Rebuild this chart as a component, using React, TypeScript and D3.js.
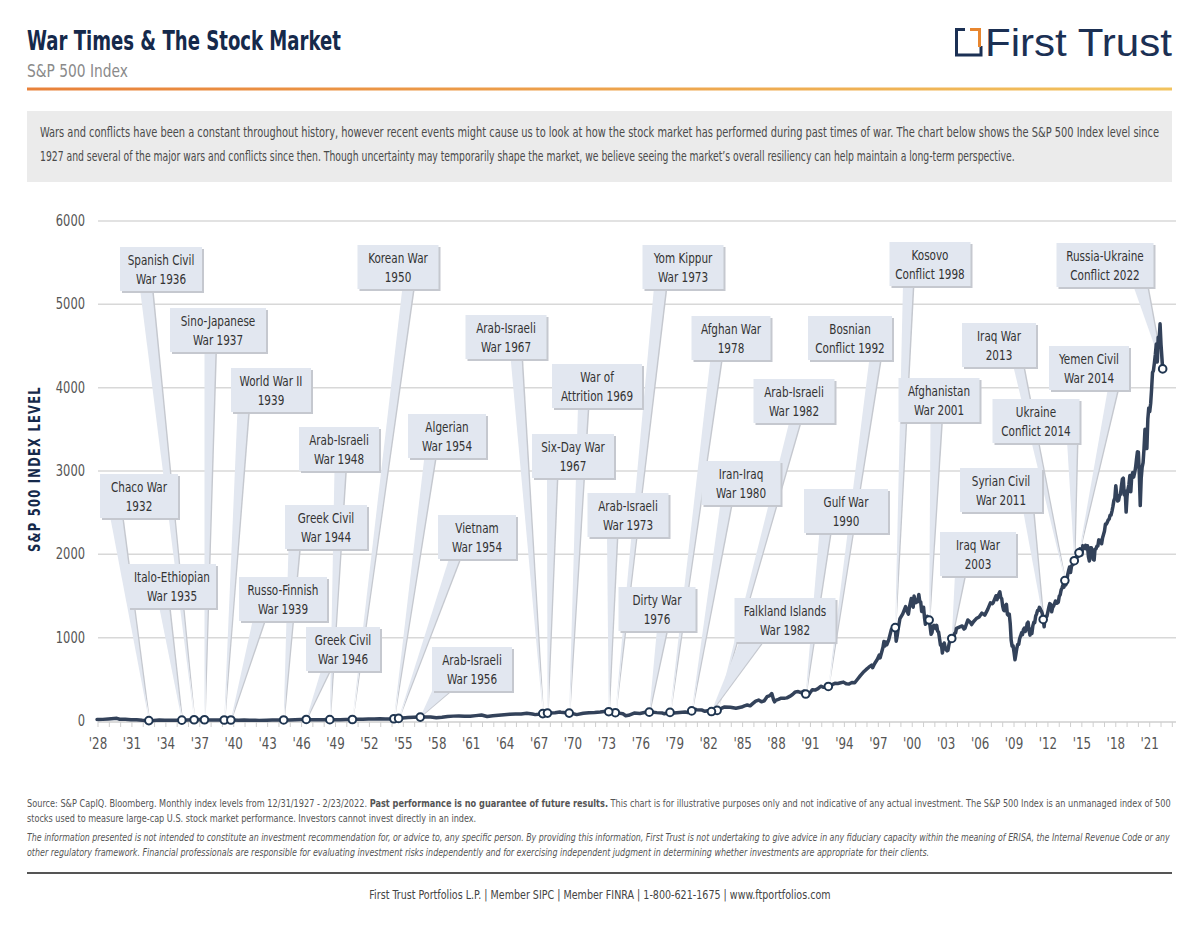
import React, { useLayoutEffect, useRef, useState } from "react";
import * as d3 from "d3";

// ---------- DATA ----------
// S&P 500 index level
const spx1928to1949: [string, number][] = [
  ["1927-12", 17.7], ["1928-06", 19.5], ["1928-12", 24.4], ["1929-09", 31.9], ["1929-12", 21.5],
  ["1930-06", 20.5], ["1930-12", 15.3], ["1931-06", 14.8], ["1931-12", 8.1], ["1932-06", 4.4],
  ["1932-12", 6.9], ["1933-06", 10.9], ["1933-12", 10.1], ["1934-06", 9.9], ["1934-12", 9.5],
  ["1935-06", 10.2], ["1935-12", 13.4], ["1936-06", 14.7], ["1936-12", 17.2], ["1937-06", 15.2],
  ["1937-12", 10.6], ["1938-06", 11.6], ["1938-12", 13.2], ["1939-06", 10.9], ["1939-12", 12.5],
  ["1940-06", 9.7], ["1940-12", 10.6], ["1941-06", 9.6], ["1941-12", 8.7], ["1942-04", 7.5],
  ["1942-12", 9.8], ["1943-06", 12.4], ["1943-12", 11.7], ["1944-06", 12.9], ["1944-12", 13.3],
  ["1945-06", 15.1], ["1945-12", 17.4], ["1946-05", 19.2], ["1946-12", 15.3], ["1947-06", 15.0],
  ["1947-12", 15.3], ["1948-06", 16.7], ["1948-12", 15.2], ["1949-06", 14.2], ["1949-12", 16.8],
];
const spx1950to1984: [string, number][] = [
  ["1950-06", 17.7], ["1950-12", 20.4], ["1951-06", 21.0], ["1951-12", 23.8], ["1952-06", 25.0],
  ["1952-12", 26.6], ["1953-06", 24.1], ["1953-12", 24.8], ["1954-06", 29.2], ["1954-12", 36.0],
  ["1955-06", 41.0], ["1955-12", 45.5], ["1956-06", 47.0], ["1956-12", 46.7], ["1957-06", 47.4],
  ["1957-12", 40.0], ["1958-06", 45.2], ["1958-12", 55.2], ["1959-06", 58.5], ["1959-12", 59.9],
  ["1960-06", 56.9], ["1960-12", 58.1], ["1961-06", 64.6], ["1961-12", 71.6], ["1962-06", 54.8],
  ["1962-12", 63.1], ["1963-06", 69.4], ["1963-12", 75.0], ["1964-06", 81.7], ["1964-12", 84.8],
  ["1965-06", 84.1], ["1965-12", 92.4], ["1966-06", 84.7], ["1966-09", 76.6], ["1966-12", 80.3],
  ["1967-06", 90.6], ["1967-12", 96.5], ["1968-06", 99.6], ["1968-11", 108.4], ["1968-12", 103.9],
  ["1969-06", 97.7], ["1969-12", 92.1], ["1970-05", 76.6], ["1970-12", 92.2], ["1971-06", 99.7],
  ["1971-12", 102.1], ["1972-06", 107.1], ["1972-12", 118.1], ["1973-06", 104.3], ["1973-12", 97.6],
  ["1974-06", 86.0], ["1974-09", 63.5], ["1974-12", 68.6], ["1975-06", 95.2], ["1975-12", 90.2],
  ["1976-06", 104.3], ["1976-12", 107.5], ["1977-06", 100.5], ["1977-12", 95.1], ["1978-02", 87.0],
  ["1978-08", 103.3], ["1978-12", 96.1], ["1979-06", 102.9], ["1979-12", 107.9], ["1980-03", 102.1],
  ["1980-11", 140.5], ["1980-12", 135.8], ["1981-06", 131.2], ["1981-09", 116.2], ["1981-12", 122.6],
  ["1982-07", 107.1], ["1982-12", 140.6], ["1983-06", 168.1], ["1983-12", 164.9], ["1984-06", 153.2],
  ["1984-12", 167.2],
];
const spx1985to1999: [string, number][] = [
  ["1985-03", 180.7], ["1985-06", 191.9], ["1985-09", 182.1], ["1985-12", 211.3], ["1986-03", 238.9],
  ["1986-06", 250.8], ["1986-09", 231.3], ["1986-12", 242.2], ["1987-03", 291.7], ["1987-06", 304.0],
  ["1987-08", 329.8], ["1987-10", 251.8], ["1987-11", 230.3], ["1987-12", 247.1], ["1988-03", 258.9],
  ["1988-06", 273.5], ["1988-09", 271.9], ["1988-12", 277.7], ["1989-03", 294.9], ["1989-06", 317.9],
  ["1989-09", 349.2], ["1989-12", 353.4], ["1990-03", 339.9], ["1990-06", 358.0], ["1990-09", 306.1],
  ["1990-10", 304.0], ["1990-12", 330.2], ["1991-03", 375.2], ["1991-06", 371.2], ["1991-09", 387.9],
  ["1991-12", 417.1], ["1992-03", 403.7], ["1992-06", 408.1], ["1992-09", 417.8], ["1992-12", 435.7],
  ["1993-03", 451.7], ["1993-06", 450.5], ["1993-09", 458.9], ["1993-12", 466.5], ["1994-03", 445.8],
  ["1994-06", 444.3], ["1994-09", 462.7], ["1994-12", 459.3], ["1995-03", 500.7], ["1995-06", 544.8],
  ["1995-09", 584.4], ["1995-12", 615.9], ["1996-03", 645.5], ["1996-06", 670.6], ["1996-07", 639.9],
  ["1996-09", 687.3], ["1996-12", 740.7], ["1997-02", 790.8], ["1997-03", 757.1], ["1997-06", 885.1],
  ["1997-07", 954.3], ["1997-08", 899.5], ["1997-09", 947.3], ["1997-10", 914.6], ["1997-12", 970.4],
  ["1998-03", 1101.8], ["1998-06", 1133.8], ["1998-07", 1120.7], ["1998-08", 957.3], ["1998-09", 1017.0],
  ["1998-10", 1098.7], ["1998-11", 1163.6], ["1998-12", 1229.2], ["1999-03", 1286.4], ["1999-06", 1372.7],
  ["1999-07", 1328.7], ["1999-09", 1282.7], ["1999-10", 1362.9], ["1999-12", 1469.3],
];
const spx2000to2009: [string, number][] = [
  ["2000-01", 1394.5], ["2000-02", 1366.4], ["2000-03", 1498.6], ["2000-04", 1452.4], ["2000-05", 1420.6],
  ["2000-06", 1454.6], ["2000-07", 1430.8], ["2000-08", 1517.7], ["2000-09", 1436.5], ["2000-10", 1429.4],
  ["2000-11", 1315.2], ["2000-12", 1320.3], ["2001-01", 1366.0], ["2001-02", 1239.9], ["2001-03", 1160.3],
  ["2001-04", 1249.5], ["2001-05", 1255.8], ["2001-06", 1224.4], ["2001-07", 1211.2], ["2001-08", 1133.6],
  ["2001-09", 1040.9], ["2001-10", 1059.8], ["2001-11", 1139.5], ["2001-12", 1148.1], ["2002-01", 1130.2],
  ["2002-02", 1106.7], ["2002-03", 1147.4], ["2002-04", 1076.9], ["2002-05", 1067.1], ["2002-06", 989.8],
  ["2002-07", 911.6], ["2002-08", 916.1], ["2002-09", 815.3], ["2002-10", 885.8], ["2002-11", 936.3],
  ["2002-12", 879.8], ["2003-01", 855.7], ["2003-02", 841.2], ["2003-03", 848.2], ["2003-04", 916.9],
  ["2003-05", 963.6], ["2003-06", 974.5], ["2003-07", 990.3], ["2003-08", 1008.0], ["2003-09", 996.0],
  ["2003-10", 1050.7], ["2003-11", 1058.2], ["2003-12", 1111.9], ["2004-03", 1126.2], ["2004-06", 1140.8],
  ["2004-08", 1104.2], ["2004-09", 1114.6], ["2004-12", 1211.9], ["2005-03", 1180.6], ["2005-04", 1156.9],
  ["2005-06", 1191.3], ["2005-09", 1228.8], ["2005-12", 1248.3], ["2006-03", 1294.8], ["2006-06", 1270.2],
  ["2006-09", 1335.9], ["2006-12", 1418.3], ["2007-02", 1406.8], ["2007-03", 1420.9], ["2007-06", 1503.4],
  ["2007-07", 1455.3], ["2007-09", 1526.8], ["2007-10", 1549.4], ["2007-11", 1481.1], ["2007-12", 1468.4],
  ["2008-01", 1378.6], ["2008-02", 1330.6], ["2008-03", 1322.7], ["2008-04", 1385.6], ["2008-05", 1400.4],
  ["2008-06", 1280.0], ["2008-07", 1267.4], ["2008-08", 1282.8], ["2008-09", 1166.4], ["2008-10", 968.8],
  ["2008-11", 896.2], ["2008-12", 903.3], ["2009-01", 825.9], ["2009-02", 735.1], ["2009-03", 797.9],
  ["2009-04", 872.8], ["2009-05", 919.1], ["2009-06", 919.3], ["2009-07", 987.5], ["2009-08", 1020.6],
  ["2009-09", 1057.1], ["2009-10", 1036.2], ["2009-11", 1095.6], ["2009-12", 1115.1],
];
const spx2010to2022: [string, number][] = [
  ["2010-01", 1073.9], ["2010-02", 1104.5], ["2010-03", 1169.4], ["2010-04", 1186.7], ["2010-05", 1089.4],
  ["2010-06", 1030.7], ["2010-07", 1101.6], ["2010-08", 1049.3], ["2010-09", 1141.2], ["2010-10", 1183.3],
  ["2010-11", 1180.6], ["2010-12", 1257.6], ["2011-01", 1286.1], ["2011-02", 1327.2], ["2011-03", 1325.8],
  ["2011-04", 1363.6], ["2011-05", 1345.2], ["2011-06", 1320.6], ["2011-07", 1292.3], ["2011-08", 1218.9],
  ["2011-09", 1131.4], ["2011-10", 1253.3], ["2011-11", 1247.0], ["2011-12", 1257.6], ["2012-01", 1312.4],
  ["2012-02", 1365.7], ["2012-03", 1408.5], ["2012-04", 1397.9], ["2012-05", 1310.3], ["2012-06", 1362.2],
  ["2012-07", 1379.3], ["2012-08", 1406.6], ["2012-09", 1440.7], ["2012-10", 1412.2], ["2012-11", 1416.2],
  ["2012-12", 1426.2], ["2013-01", 1498.1], ["2013-02", 1514.7], ["2013-03", 1569.2], ["2013-04", 1597.6],
  ["2013-05", 1630.7], ["2013-06", 1606.3], ["2013-07", 1685.7], ["2013-08", 1633.0], ["2013-09", 1681.6],
  ["2013-10", 1756.5], ["2013-11", 1805.8], ["2013-12", 1848.4], ["2014-01", 1782.6], ["2014-02", 1859.5],
  ["2014-03", 1872.3], ["2014-04", 1883.9], ["2014-05", 1923.6], ["2014-06", 1960.2], ["2014-07", 1930.7],
  ["2014-08", 2003.4], ["2014-09", 1972.3], ["2014-10", 2018.1], ["2014-11", 2067.6], ["2014-12", 2058.9],
  ["2015-01", 1995.0], ["2015-02", 2104.5], ["2015-03", 2067.9], ["2015-04", 2085.5], ["2015-05", 2107.4],
  ["2015-06", 2063.1], ["2015-07", 2103.8], ["2015-08", 1972.2], ["2015-09", 1920.0], ["2015-10", 2079.4],
  ["2015-11", 2080.4], ["2015-12", 2043.9], ["2016-01", 1940.2], ["2016-02", 1932.2], ["2016-03", 2059.7],
  ["2016-04", 2065.3], ["2016-05", 2096.9], ["2016-06", 2098.9], ["2016-07", 2173.6], ["2016-08", 2170.9],
  ["2016-09", 2168.3], ["2016-10", 2126.2], ["2016-11", 2199.0], ["2016-12", 2238.8], ["2017-01", 2278.9],
  ["2017-02", 2363.6], ["2017-03", 2362.7], ["2017-04", 2384.2], ["2017-05", 2411.8], ["2017-06", 2423.4],
  ["2017-07", 2470.3], ["2017-08", 2471.7], ["2017-09", 2519.4], ["2017-10", 2575.3], ["2017-11", 2647.6],
  ["2017-12", 2673.6], ["2018-01", 2823.8], ["2018-02", 2713.8], ["2018-03", 2640.9], ["2018-04", 2648.1],
  ["2018-05", 2705.3], ["2018-06", 2718.4], ["2018-07", 2816.3], ["2018-08", 2901.5], ["2018-09", 2914.0],
  ["2018-10", 2711.7], ["2018-11", 2760.2], ["2018-12", 2506.9], ["2019-01", 2704.1], ["2019-02", 2784.5],
  ["2019-03", 2834.4], ["2019-04", 2945.8], ["2019-05", 2752.1], ["2019-06", 2941.8], ["2019-07", 2980.4],
  ["2019-08", 2926.5], ["2019-09", 2976.7], ["2019-10", 3037.6], ["2019-11", 3141.0], ["2019-12", 3230.8],
  ["2020-01", 3225.5], ["2020-02", 2954.2], ["2020-03", 2584.6], ["2020-04", 2912.4], ["2020-05", 3044.3],
  ["2020-06", 3100.3], ["2020-07", 3271.1], ["2020-08", 3500.3], ["2020-09", 3363.0], ["2020-10", 3270.0],
  ["2020-11", 3621.6], ["2020-12", 3756.1], ["2021-01", 3714.2], ["2021-02", 3811.2], ["2021-03", 3972.9],
  ["2021-04", 4181.2], ["2021-05", 4204.1], ["2021-06", 4297.5], ["2021-07", 4395.3], ["2021-08", 4522.7],
  ["2021-09", 4307.5], ["2021-10", 4605.4], ["2021-11", 4567.0], ["2021-12", 4766.2], ["2022-01", 4515.6],
  ["2022-02-23", 4225.5],
];

// War / conflict events: label lines and date marked on the index line
const warEvents: { lines: [string, string]; date: string }[] = [
  { lines: ["Spanish Civil", "War 1936"], date: "1936-07" },
  { lines: ["Sino-Japanese", "War 1937"], date: "1937-06" },
  { lines: ["World War II", "1939"], date: "1939-03" },
  { lines: ["Arab-Israeli", "War 1948"], date: "1948-07" },
  { lines: ["Chaco War", "1932"], date: "1932-07" },
  { lines: ["Greek Civil", "War 1944"], date: "1944-06" },
  { lines: ["Italo-Ethiopian", "War 1935"], date: "1935-06" },
  { lines: ["Russo-Finnish", "War 1939"], date: "1939-10" },
  { lines: ["Greek Civil", "War 1946"], date: "1946-06" },
  { lines: ["Korean War", "1950"], date: "1950-07" },
  { lines: ["Algerian", "War 1954"], date: "1954-03" },
  { lines: ["Vietnam", "War 1954"], date: "1954-08" },
  { lines: ["Arab-Israeli", "War 1956"], date: "1956-07" },
  { lines: ["Arab-Israeli", "War 1967"], date: "1967-05" },
  { lines: ["War of", "Attrition 1969"], date: "1969-09" },
  { lines: ["Six-Day War", "1967"], date: "1967-10" },
  { lines: ["Yom Kippur", "War 1973"], date: "1973-10" },
  { lines: ["Arab-Israeli", "War 1973"], date: "1973-03" },
  { lines: ["Dirty War", "1976"], date: "1976-10" },
  { lines: ["Afghan War", "1978"], date: "1978-08" },
  { lines: ["Arab-Israeli", "War 1982"], date: "1982-10" },
  { lines: ["Iran-Iraq", "War 1980"], date: "1980-07" },
  { lines: ["Falkland Islands", "War 1982"], date: "1982-04" },
  { lines: ["Bosnian", "Conflict 1992"], date: "1992-08" },
  { lines: ["Gulf War", "1990"], date: "1990-08" },
  { lines: ["Kosovo", "Conflict 1998"], date: "1998-07" },
  { lines: ["Afghanistan", "War 2001"], date: "2001-07" },
  { lines: ["Iraq War", "2003"], date: "2003-07" },
  { lines: ["Syrian Civil", "War 2011"], date: "2011-08" },
  { lines: ["Iraq War", "2013"], date: "2013-07" },
  { lines: ["Ukraine", "Conflict 2014"], date: "2014-05" },
  { lines: ["Yemen Civil", "War 2014"], date: "2014-10" },
  { lines: ["Russia-Ukraine", "Conflict 2022"], date: "2022-02-23" },
];

const yTickValues = [0, 1000, 2000, 3000, 4000, 5000, 6000];

// ---------- LAYOUT (annotation placement, same order as warEvents) ----------
// cx: box centre, top: box top, w: box width, bx: pointer base centre, bw: pointer base width
const calloutLayout = [
  { cx: 161, top: 247, w: 82, bx: 146, bw: 12 },
  { cx: 218, top: 308, w: 96, bx: 210, bw: 11 },
  { cx: 271, top: 368, w: 80, bx: 243, bw: 11 },
  { cx: 339, top: 427, w: 80, bx: 340, bw: 11 },
  { cx: 139, top: 474, w: 78, bx: 116, bw: 12 },
  { cx: 326, top: 505, w: 82, bx: 294, bw: 11 },
  { cx: 172, top: 564, w: 88, bx: 164, bw: 10 },
  { cx: 283, top: 577, w: 88, bx: 259, bw: 12 },
  { cx: 343, top: 627, w: 74, bx: 326, bw: 9 },
  { cx: 398, top: 245, w: 81, bx: 408, bw: 11 },
  { cx: 447, top: 414, w: 78, bx: 430, bw: 11 },
  { cx: 477, top: 515, w: 78, bx: 455, bw: 11 },
  { cx: 472, top: 647, w: 80, bx: 443, bw: 20 },
  { cx: 506, top: 315, w: 81, bx: 516, bw: 11 },
  { cx: 597, top: 364, w: 90, bx: 583, bw: 10 },
  { cx: 573, top: 434, w: 82, bx: 552, bw: 10 },
  { cx: 683, top: 245, w: 81, bx: 660, bw: 12 },
  { cx: 628, top: 493, w: 81, bx: 612, bw: 10 },
  { cx: 657, top: 587, w: 77, bx: 662, bw: 10 },
  { cx: 731, top: 316, w: 79, bx: 716, bw: 11 },
  { cx: 794, top: 379, w: 81, bx: 795, bw: 11 },
  { cx: 741, top: 461, w: 79, bx: 726, bw: 11 },
  { cx: 785, top: 598, w: 101, bx: 752, bw: 24 },
  { cx: 850, top: 316, w: 84, bx: 875, bw: 11 },
  { cx: 846, top: 489, w: 84, bx: 825, bw: 11 },
  { cx: 930, top: 242, w: 81, bx: 908, bw: 10 },
  { cx: 939, top: 378, w: 81, bx: 936, bw: 11 },
  { cx: 978, top: 532, w: 76, bx: 960, bw: 10 },
  { cx: 1001, top: 468, w: 82, bx: 1028, bw: 10 },
  { cx: 999, top: 323, w: 74, bx: 1018, bw: 10 },
  { cx: 1036, top: 399, w: 87, bx: 1072, bw: 10 },
  { cx: 1089, top: 346, w: 80, bx: 1113, bw: 10 },
  { cx: 1105, top: 243, w: 97, bx: 1140, bw: 14 },
];

const COND = "'Liberation Sans Narrow', 'Arial Narrow', 'DejaVu Sans Condensed', sans-serif";
const NAVY = "#15294b";
const LINE = "#33425a";
const BOX = "#e2e7f0";
const SHADOW = "#c5c8cf";

const parseMonth = d3.timeParse("%Y-%m");
const parseDay = d3.timeParse("%Y-%m-%d");
const parseDate = (s: string) => (s.length > 7 ? parseDay(s) : parseMonth(s)) as Date;

// Text scaled horizontally so its rendered width equals `width`
function FitText(props: {
  x: number;
  y: number;
  width: number;
  anchor?: "start" | "middle" | "end";
  rotate?: number;
  children: React.ReactNode;
  [k: string]: any;
}) {
  const { x, y, width, anchor = "start", rotate = 0, children, ...rest } = props;
  const ref = useRef<SVGTextElement>(null);
  const [s, setS] = useState(1);
  useLayoutEffect(() => {
    if (ref.current) {
      const len = ref.current.getComputedTextLength();
      if (len > 0) setS(width / len);
    }
  }, [width]);
  return (
    <g transform={`translate(${x},${y}) rotate(${rotate}) scale(${s},1)`}>
      <text ref={ref} x={0} y={0} textAnchor={anchor} {...rest}>
        {children}
      </text>
    </g>
  );
}

// Text squeezed horizontally by a fixed factor (condensed look)
function SqText(props: { x: number; y: number; sx?: number; children: React.ReactNode; [k: string]: any }) {
  const { x, y, sx = 0.82, children, ...rest } = props;
  return (
    <g transform={`translate(${x},${y}) scale(${sx},1)`}>
      <text x={0} y={0} {...rest}>
        {children}
      </text>
    </g>
  );
}

export default function App() {
  const series = [...spx1928to1949, ...spx1950to1984, ...spx1985to1999, ...spx2000to2009, ...spx2010to2022].map(
    ([d, v]) => ({ date: parseDate(d), value: v })
  );
  const x = d3.scaleTime().domain([new Date(1928, 0, 1), new Date(2023, 5, 1)]).range([98, 1177]);
  const y = d3.scaleLinear().domain([0, 6000]).range([721, 221]);
  const linePath = d3
    .line<{ date: Date; value: number }>()
    .x((d) => x(d.date))
    .y((d) => y(d.value))(series) as string;

  const bis = d3.bisector((d: { date: Date }) => d.date).left;
  const valueAt = (date: Date) => {
    const i = bis(series, date);
    if (i <= 0) return series[0].value;
    if (i >= series.length) return series[series.length - 1].value;
    const a = series[i - 1];
    const b = series[i];
    const t = (+date - +a.date) / (+b.date - +a.date);
    return a.value + t * (b.value - a.value);
  };

  const years = d3.timeYear.range(new Date(1928, 0, 1), new Date(2023, 0, 2));
  const labelYears = years.filter((d) => (d.getFullYear() - 1928) % 3 === 0);

  const markers = warEvents.map((e) => {
    const dt = parseDate(e.date);
    return { mx: x(dt), my: y(valueAt(dt)) };
  });

  const BH = 44;

  return (
    <svg
      width={1200}
      height={927}
      viewBox="0 0 1200 927"
      style={{ position: "absolute", left: 0, top: 0, background: "#fff" }}
    >
      <defs>
        <linearGradient id="rule" x1="0" x2="1" y1="0" y2="0">
          <stop offset="0" stopColor="#e8813a" />
          <stop offset="1" stopColor="#f2c35e" />
        </linearGradient>
      </defs>
      <rect x={0} y={0} width={1200} height={927} fill="#fff" />

      {/* Header */}
      <FitText x={27} y={50} width={314} fontFamily={COND} fontWeight="bold" fontSize={27} fill={NAVY}>
        War Times &amp; The Stock Market
      </FitText>
      <FitText x={27} y={77} width={101} fontFamily={COND} fontSize={17.5} fill="#8a8a8a">
        S&amp;P 500 Index
      </FitText>
      {/* Logo */}
      <g>
        <path d="M965,29.5 H956.5 V55 H981 V46" fill="none" stroke="#1b3054" strokeWidth={3} />
        <path d="M970,29.5 H979.5 V47" fill="none" stroke="#e8862f" strokeWidth={3} />
        <FitText x={985} y={56} width={187} fontFamily="'Liberation Sans', Arial, sans-serif" fontSize={38} fill="#1b3054">
          First Trust
        </FitText>
      </g>
      <rect x={27} y={87.5} width={1145} height={3} fill="url(#rule)" />

      {/* Intro box */}
      <rect x={27} y={111} width={1145} height={71} fill="#ebebeb" />
      <FitText x={40} y={137} width={1120} fontFamily={COND} fontSize={13.5} fill="#4a4a4a">
        Wars and conflicts have been a constant throughout history, however recent events might cause us to look at how the stock market has performed during past times of war. The chart below shows the S&amp;P 500 Index level since
      </FitText>
      <FitText x={40} y={161} width={975} fontFamily={COND} fontSize={13.5} fill="#4a4a4a">
        1927 and several of the major wars and conflicts since then. Though uncertainty may temporarily shape the market, we believe seeing the market’s overall resiliency can help maintain a long-term perspective.
      </FitText>

      {/* Grid + y axis */}
      {yTickValues.map((v) => (
        <g key={v}>
          {v > 0 && <line x1={98} x2={1176} y1={y(v)} y2={y(v)} stroke="#d8d8d8" strokeWidth={1.5} />}
          <SqText x={85} y={y(v) + 5} sx={0.85} textAnchor="end" fontFamily={COND} fontSize={15} fill="#555">
            {v}
          </SqText>
        </g>
      ))}
      <FitText
        x={40}
        y={469}
        rotate={-90}
        width={166}
        anchor="middle"
        fontFamily={COND}
        fontWeight="bold"
        fontSize={15}
        fill={NAVY}
        letterSpacing={1.5}
      >
        S&amp;P 500 INDEX LEVEL
      </FitText>

      {/* x axis */}
      <line x1={98} x2={1176} y1={722} y2={722} stroke="#cfcfcf" strokeWidth={1.5} />
      {years.map((d) => (
        <line key={+d} x1={x(d)} x2={x(d)} y1={722} y2={727} stroke="#cfcfcf" strokeWidth={1} />
      ))}
      {labelYears.map((d) => (
        <SqText key={+d} x={x(d)} y={749} sx={0.88} textAnchor="middle" fontFamily={COND} fontSize={15} fill="#555">
          {"'" + String(d.getFullYear()).slice(2)}
        </SqText>
      ))}

      {/* Callout pointers */}
      {calloutLayout.map((c, i) => {
        const m = markers[i];
        const b = c.top + BH;
        return (
          <g key={"p" + i}>
            <polygon
              points={`${c.bx - c.bw / 2 + 1.5},${b - 2} ${c.bx + c.bw / 2 + 1.5},${b - 2} ${m.mx + 1.2},${m.my}`}
              fill={SHADOW}
            />
            <polygon
              points={`${c.bx - c.bw / 2},${b - 2} ${c.bx + c.bw / 2},${b - 2} ${m.mx},${m.my}`}
              fill={BOX}
            />
          </g>
        );
      })}
      {/* Callout boxes */}
      {calloutLayout.map((c, i) => {
        const e = warEvents[i];
        return (
          <g key={"b" + i}>
            <rect x={c.cx - c.w / 2 + 2} y={c.top + 2} width={c.w} height={BH} fill={SHADOW} />
            <rect x={c.cx - c.w / 2} y={c.top} width={c.w} height={BH} fill={BOX} />
            <SqText x={c.cx} y={c.top + 18} sx={0.8} textAnchor="middle" fontFamily={COND} fontSize={14.5} fill="#333">
              {e.lines[0]}
            </SqText>
            <SqText x={c.cx} y={c.top + 37} sx={0.8} textAnchor="middle" fontFamily={COND} fontSize={14.5} fill="#333">
              {e.lines[1]}
            </SqText>
          </g>
        );
      })}

      {/* Index line */}
      <path d={linePath} fill="none" stroke={LINE} strokeWidth={3.5} strokeLinejoin="round" strokeLinecap="round" />
      {markers.map((m, i) => (
        <circle key={"m" + i} cx={m.mx} cy={m.my} r={3.8} fill="#fff" stroke="#1f3550" strokeWidth={2} />
      ))}

      {/* Footnotes */}
      <FitText x={27} y={807} width={1145} fontFamily={COND} fontSize={10.5} fill="#555">
        Source: S&amp;P CapIQ. Bloomberg. Monthly index levels from 12/31/1927 - 2/23/2022.{" "}
        <tspan fontWeight="bold">Past performance is no guarantee of future results.</tspan> This chart is for illustrative purposes only and not indicative of any actual investment. The S&amp;P 500 Index is an unmanaged index of 500
      </FitText>
      <FitText x={27} y={822} width={450} fontFamily={COND} fontSize={10.5} fill="#555">
        stocks used to measure large-cap U.S. stock market performance. Investors cannot invest directly in an index.
      </FitText>
      <FitText x={27} y={841} width={1145} fontFamily={COND} fontStyle="italic" fontSize={10.5} fill="#555">
        The information presented is not intended to constitute an investment recommendation for, or advice to, any specific person. By providing this information, First Trust is not undertaking to give advice in any fiduciary capacity within the meaning of ERISA, the Internal Revenue Code or any
      </FitText>
      <FitText x={27} y={856} width={903} fontFamily={COND} fontStyle="italic" fontSize={10.5} fill="#555">
        other regulatory framework. Financial professionals are responsible for evaluating investment risks independently and for exercising independent judgment in determining whether investments are appropriate for their clients.
      </FitText>
      <rect x={27} y={872} width={1145} height={2} fill="#555" />
      <FitText x={600} y={899} width={462} anchor="middle" fontFamily={COND} fontSize={13} fill="#444">
        First Trust Portfolios L.P. | Member SIPC | Member FINRA | 1-800-621-1675 | www.ftportfolios.com
      </FitText>
    </svg>
  );
}
